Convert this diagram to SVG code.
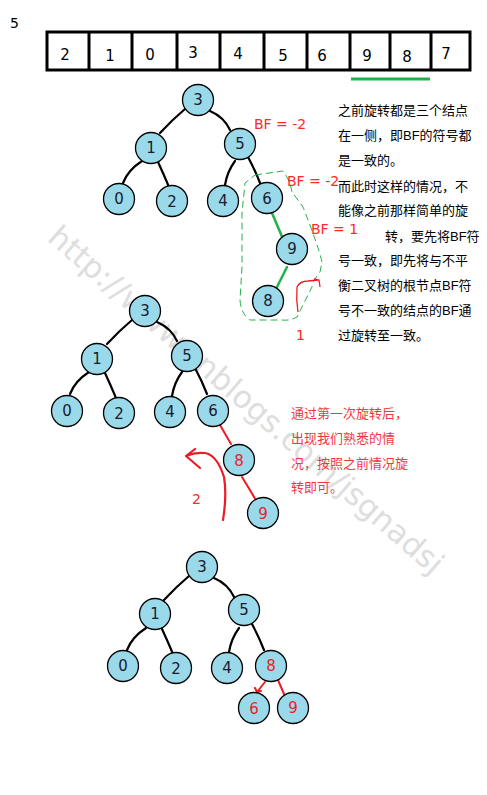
<svg xmlns="http://www.w3.org/2000/svg" width="487" height="795" viewBox="0 0 487 795">
<style>
.n circle{fill:#99D9EA;stroke:#000;stroke-width:1.3}
.n text{font-family:"DejaVu Sans","Liberation Sans",sans-serif;font-size:15px;text-anchor:middle;fill:#1a1a2e}
.n.r text{fill:#ED1C24}
.e{fill:none;stroke:#000;stroke-width:2.2;stroke-linecap:round}
.g{fill:none;stroke:#22B14C;stroke-width:2.5;stroke-linecap:round}
.rd{fill:none;stroke:#ED1C24;stroke-width:2;stroke-linecap:round}
.cell{fill:#fff;stroke:#000;stroke-width:3}
.arr text{font-family:"DejaVu Sans","Liberation Sans",sans-serif;font-size:15px;text-anchor:middle}
.bf{font-family:"DejaVu Sans","Liberation Sans",sans-serif;font-size:14px;fill:#FF2A2A}
.cn{font-family:"Liberation Sans","Noto Sans CJK SC",sans-serif;font-size:13px;fill:#000}
.cr{font-family:"Liberation Sans","Noto Sans CJK SC",sans-serif;font-size:13px;fill:#F0383F}
</style>
<rect width="487" height="795" fill="#fff"/>
<!-- watermark -->
<text id="watermark" x="0" y="0" transform="translate(46,240) rotate(41)" font-family="DejaVu Sans,sans-serif" font-size="31" fill="#d6d6d6" opacity="0.8">http://www.cnblogs.com/jsgnadsj</text>

<text x="10" y="28" font-family="DejaVu Sans,sans-serif" font-size="14">5</text>

<g id="array" class="arr">
<rect class="cell" x="47" y="32" width="423" height="38"/>
<path d="M89 32V70M132 32V70M177 32V70M220 32V70M264 32V70M307 32V70M350 32V70M390 32V70M431 32V70" stroke="#000" stroke-width="3"/>
<text x="65" y="60">2</text><text x="110" y="61">1</text><text x="150" y="60">0</text><text x="193" y="58">3</text><text x="238" y="59">4</text><text x="283" y="61">5</text><text x="322" y="61">6</text><text x="367" y="61">9</text><text x="407" y="62">8</text><text x="446" y="59">7</text>
<line x1="351" y1="79" x2="430" y2="79" stroke="#22B14C" stroke-width="3"/>
</g>

<g id="connectors">
<!-- tree 1 -->
<path class="e" d="M185 109Q172 120 160 133"/>
<path class="e" d="M210 111Q224 117 230 130"/>
<path class="e" d="M142 161Q128 170 123 183"/>
<path class="e" d="M158 162Q164 175 169 187"/>
<path class="e" d="M235 161Q227 172 225 185"/>
<path class="e" d="M248 157Q255 170 260 183"/>
<path class="g" d="M272 213L283 239"/>
<path class="g" d="M287 267L277 287"/>
<!-- tree 2 -->
<path class="e" d="M132 320Q119 331 107 344"/>
<path class="e" d="M157 322Q171 328 177 341"/>
<path class="e" d="M89 372Q75 381 70 394"/>
<path class="e" d="M105 373Q111 386 116 398"/>
<path class="e" d="M182 372Q174 383 172 396"/>
<path class="e" d="M195 368Q202 381 207 394"/>
<path class="rd" d="M220 425L231 444"/>
<path class="rd" d="M242 477Q250 490 257 502"/>
<!-- tree 3 -->
<path class="e" d="M189 576Q176 587 164 600"/>
<path class="e" d="M214 578Q228 584 234 597"/>
<path class="e" d="M146 628Q132 637 127 650"/>
<path class="e" d="M162 629Q168 642 173 654"/>
<path class="e" d="M239 628Q231 639 229 652"/>
<path class="e" d="M252 624Q259 637 264 650"/>
<path class="rd" d="M265 682L257 692M255 688L257 692L261 691"/>
<path class="rd" d="M278 680L284 694"/>
</g>

<!-- annotations tree 1 -->
<path id="dashed-outline" d="M255 175L283 171Q290 180 292 192L303 207Q318 245 322 262L320 272Q312 282 312 287L297 317Q290 321 282 320L250 320Q241 314 240 300L242 267L242 213L245 183Z" fill="none" stroke="#22B14C" stroke-width="1" stroke-dasharray="7 4"/>
<path d="M298 312Q296 300 297 287Q300 281 308 281L318 280M314 279L319 280L320 287" fill="none" stroke="#ED1C24" stroke-width="1.3"/>
<text class="bf" x="254" y="129">BF = -2</text>
<text class="bf" x="287" y="186">BF = -2</text>
<text class="bf" x="311" y="234">BF = 1</text>
<text class="bf" x="296" y="340">1</text>

<g id="note1">
<text class="cn" x="338" y="115">之前旋转都是三个结点</text>
<text class="cn" x="338" y="140">在一侧，即BF的符号都</text>
<text class="cn" x="338" y="165">是一致的。</text>
<text class="cn" x="338" y="191">而此时这样的情况，不</text>
<text class="cn" x="338" y="215">能像之前那样简单的旋</text>
<text class="cn" x="385" y="241">转，要先将BF符</text>
<text class="cn" x="338" y="265">号一致，即先将与不平</text>
<text class="cn" x="338" y="290">衡二叉树的根节点BF符</text>
<text class="cn" x="338" y="315">号不一致的结点的BF通</text>
<text class="cn" x="338" y="340">过旋转至一致。</text>
</g>

<!-- annotations tree 2 -->
<path d="M223 520Q227 495 224 477Q217 455 205 453Q195 452 186 456M186 456L195 449M186 456L200 468" fill="none" stroke="#ED1C24" stroke-width="2.2" stroke-linecap="round"/>
<text class="bf" x="192" y="504">2</text>
<g id="note2">
<text class="cr" x="291" y="418">通过第一次旋转后，</text>
<text class="cr" x="291" y="443">出现我们熟悉的情</text>
<text class="cr" x="291" y="468">况，按照之前情况旋</text>
<text class="cr" x="291" y="492">转即可。</text>
</g>

<!-- tree 1 nodes -->
<g id="t1-3" class="n"><circle cx="198" cy="100" r="15.5"/><text x="198" y="105">3</text></g>
<g id="t1-1" class="n"><circle cx="151" cy="148" r="15.5"/><text x="151" y="153">1</text></g>
<g id="t1-5" class="n"><circle cx="240" cy="144" r="15.5"/><text x="240" y="149">5</text></g>
<g id="t1-0" class="n"><circle cx="119" cy="199" r="15.5"/><text x="119" y="204">0</text></g>
<g id="t1-2" class="n"><circle cx="172" cy="201" r="15.5"/><text x="172" y="207">2</text></g>
<g id="t1-4" class="n"><circle cx="223" cy="201" r="15.5"/><text x="223" y="206">4</text></g>
<g id="t1-6" class="n"><circle cx="267" cy="198" r="15.5"/><text x="267" y="204">6</text></g>
<g id="t1-9" class="n"><circle cx="292" cy="249" r="15.5"/><text x="292" y="254">9</text></g>
<g id="t1-8" class="n"><circle cx="268" cy="301" r="15.5"/><text x="268" y="306">8</text></g>

<!-- tree 2 nodes -->
<g id="t2-3" class="n"><circle cx="145" cy="311" r="15.5"/><text x="145" y="316">3</text></g>
<g id="t2-1" class="n"><circle cx="97" cy="359" r="15.5"/><text x="97" y="364">1</text></g>
<g id="t2-5" class="n"><circle cx="187" cy="356" r="15.5"/><text x="187" y="361">5</text></g>
<g id="t2-0" class="n"><circle cx="67" cy="411" r="15.5"/><text x="67" y="416">0</text></g>
<g id="t2-2" class="n"><circle cx="119" cy="413" r="15.5"/><text x="119" y="419">2</text></g>
<g id="t2-4" class="n"><circle cx="170" cy="412" r="15.5"/><text x="170" y="417">4</text></g>
<g id="t2-6" class="n"><circle cx="213" cy="411" r="15.5"/><text x="213" y="416">6</text></g>
<g id="t2-8" class="n r"><circle cx="239" cy="460" r="15.5"/><text x="239" y="466">8</text></g>
<g id="t2-9" class="n r"><circle cx="263" cy="513" r="15.5"/><text x="263" y="519">9</text></g>

<!-- tree 3 nodes -->
<g id="t3-3" class="n"><circle cx="202" cy="567" r="15.5"/><text x="202" y="572">3</text></g>
<g id="t3-1" class="n"><circle cx="155" cy="614" r="15.5"/><text x="155" y="619">1</text></g>
<g id="t3-5" class="n"><circle cx="244" cy="610" r="15.5"/><text x="244" y="615">5</text></g>
<g id="t3-0" class="n"><circle cx="123" cy="666" r="15.5"/><text x="123" y="671">0</text></g>
<g id="t3-2" class="n"><circle cx="176" cy="668" r="15.5"/><text x="176" y="674">2</text></g>
<g id="t3-4" class="n"><circle cx="227" cy="668" r="15.5"/><text x="227" y="673">4</text></g>
<g id="t3-8" class="n r"><circle cx="271" cy="666" r="15.5"/><text x="271" y="671">8</text></g>
<g id="t3-6" class="n r"><circle cx="254" cy="708" r="15.5"/><text x="254" y="714">6</text></g>
<g id="t3-9" class="n r"><circle cx="293" cy="708" r="15.5"/><text x="293" y="713">9</text></g>
</svg>
